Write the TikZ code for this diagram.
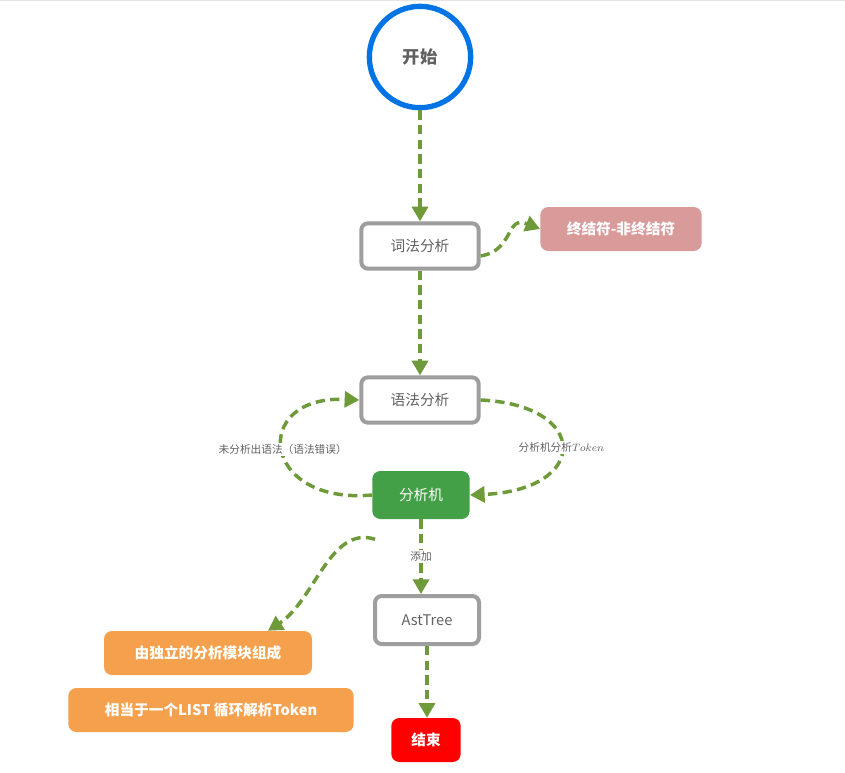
\documentclass[tikz,border=0pt]{standalone}
\usepackage{fontspec}
\setmainfont{Noto Sans CJK SC}
\usetikzlibrary{arrows.meta}
\definecolor{flowgreen}{HTML}{6E9A3A}
\definecolor{boxgray}{HTML}{9E9E9E}
\definecolor{textgray}{HTML}{616161}
\begin{document}
\begin{tikzpicture}[x=0.75pt,y=-0.75pt]
\tikzset{
  flow/.style={draw=flowgreen, line width=2.6pt, dash pattern=on 7pt off 4pt,
    -{Triangle[length=11pt,width=12pt]}},
  stepbox/.style={draw=boxgray, line width=3pt, rounded corners=5pt, fill=white,
    minimum width=88pt, minimum height=34pt, text=textgray, font=\fontsize{11}{13}\selectfont},
  tagbox/.style={rounded corners=6pt, text=white, minimum height=33pt,
    font=\bfseries\fontsize{11}{13}\selectfont},
  lbl/.style={fill=white, text=textgray, inner sep=1pt, font=\fontsize{8}{10}\selectfont}
}
\useasboundingbox (0,0) rectangle (845,772);
\fill[white] (0,0) rectangle (845,772);
\draw[gray!20] (0,0.5) -- (845,0.5);
% nodes
\node[circle, draw=blue!50!cyan!90!black, line width=4pt, minimum size=76pt,
  text=textgray, font=\bfseries\fontsize{13}{15}\selectfont] (start) at (420,57) {开始};
\node[stepbox] (lex) at (420,246) {词法分析};
\node[tagbox, fill={rgb,255:red,217;green,154;blue,154}, minimum width=121pt] (term) at (621,229) {终结符-非终结符};
\node[stepbox] (syn) at (420,400) {语法分析};
\node[tagbox, fill={rgb,255:red,67;green,160;blue,71}, minimum width=73pt, minimum height=36pt,
  font=\fontsize{11}{13}\selectfont] (mach) at (421,495) {分析机};
\node[stepbox, minimum width=78pt, minimum height=36pt] (ast) at (427,620) {AstTree};
\node[tagbox, fill={rgb,255:red,244;green,160;blue,76}, minimum width=156pt] (mod) at (208,653) {由独立的分析模块组成};
\node[tagbox, fill={rgb,255:red,244;green,160;blue,76}, minimum width=214pt] (list) at (211,710) {相当于一个LIST 循环解析Token};
\node[tagbox, fill=red, minimum width=52pt] (stop) at (426,740) {结束};
% connectors
\draw[flow] (start) -- (lex);
\draw[flow] (lex.east) ++(0,10) coordinate (lexr) (lexr) .. controls (515,250) and (505,215) .. (term.west);
\draw[flow] (lex) -- (syn);
\draw[flow] (syn.east) .. controls (590,405) and (590,490) .. (mach.east)
  node[lbl, pos=0.5] {分析机分析$Token$};
\draw[flow] (mach.west) .. controls (260,505) and (250,395) .. (syn.west)
  node[lbl, pos=0.5] {未分析出语法（语法错误）};
\draw[flow] (mach.south) -- (mach.south |- ast.north) node[lbl, midway] {添加};
\draw[flow] (mach.south west) ++(3,20) coordinate (machl) (machl) .. controls (330,525) and (315,600) .. (mod.north east -| 268,0) ;
\draw[flow] (ast) -- (ast.south |- stop.north);
\end{tikzpicture}
\end{document}
